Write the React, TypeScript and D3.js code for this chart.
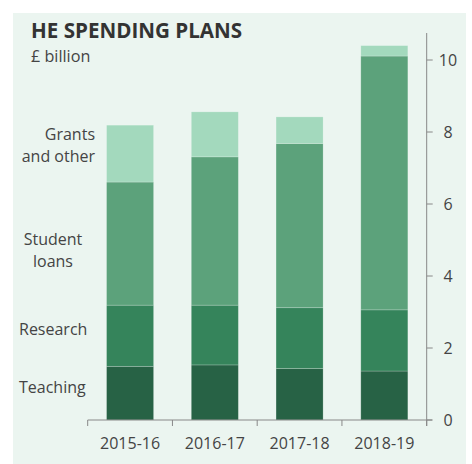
import React from "react";
import * as d3 from "d3";

const categories = ["2015-16", "2016-17", "2017-18", "2018-19"];
const seriesNames = ["Teaching", "Research", "Student loans", "Grants and other"];
const teaching = [1.49, 1.53, 1.43, 1.36];
const research = [1.70, 1.66, 1.69, 1.70];
const studentLoans = [3.42, 4.12, 4.56, 7.05];
const grantsOther = [1.58, 1.25, 0.74, 0.29];
const yTicks = [0, 2, 4, 6, 8, 10];
const colors = ["#276245", "#35845b", "#5ca27b", "#a3d9bd"];

const W = 472;
const H = 464;
const font = "'Open Sans', sans-serif";

export default function App() {
  const rows = categories.map((c, i) => ({
    cat: c,
    Teaching: teaching[i],
    Research: research[i],
    "Student loans": studentLoans[i],
    "Grants and other": grantsOther[i],
  }));
  const stack = d3.stack<any>().keys(seriesNames);
  const series = stack(rows);

  const x = d3.scaleBand().domain(categories).range([87.7, 426.7]).paddingInner(0.445).paddingOuter(0.2225);
  const y = d3.scaleLinear().domain([0, 10]).range([420, 60]);
  const axisX = 426.7;
  const step = x.step();
  const boundaries = categories.map((_, i) => 87.7 + i * step).concat([426.7]);

  return (
    <svg width={W} height={H} style={{ position: "absolute", left: 0, top: 0 }} fontFamily={font}>
      <rect x={0} y={0} width={W} height={H} fill="#ffffff" />
      <rect x={13} y={13} width={453} height={451} fill="#ebf5f0" />
      <text x={31} y={38} fontSize={20.6} fontWeight={700} fill="#333">HE SPENDING PLANS</text>
      <text x={31} y={62} fontSize={16.2} fill="#444">£ billion</text>

      {series.map((s, si) => (
        <g key={si} fill={colors[si]}>
          {s.map((d, i) => (
            <rect
              key={i}
              x={x(categories[i])}
              width={x.bandwidth()}
              y={y(d[1])}
              height={y(d[0]) - y(d[1])}
              stroke="#ffffff"
              strokeOpacity={0.25}
              strokeWidth={0.8}
            />
          ))}
        </g>
      ))}

      {/* right axis */}
      <line x1={axisX} x2={axisX} y1={33} y2={426} stroke="#888" strokeWidth={1} />
      {yTicks.map((t) => (
        <g key={t}>
          <line x1={axisX} x2={axisX + 6} y1={y(t)} y2={y(t)} stroke="#888" strokeWidth={1} />
          <text x={448} y={y(t)} dy="0.35em" textAnchor="middle" fontSize={16} fill="#444">{t}</text>
        </g>
      ))}

      {/* bottom axis */}
      <line x1={87.7} x2={432} y1={420} y2={420} stroke="#888" strokeWidth={1} />
      {boundaries.map((b, i) => (
        <line key={i} x1={b} x2={b} y1={420} y2={426} stroke="#888" strokeWidth={1} />
      ))}
      {categories.map((c) => (
        <text key={c} x={(x(c) as number) + x.bandwidth() / 2} y={449} textAnchor="middle" fontSize={16} fill="#444">{c}</text>
      ))}

      {/* series labels */}
      <text x={95} y={140} textAnchor="end" fontSize={16} fill="#444">Grants</text>
      <text x={95} y={162} textAnchor="end" fontSize={16} fill="#444">and other</text>
      <text x={53} y={245} textAnchor="middle" fontSize={16} fill="#444">Student</text>
      <text x={53} y={267} textAnchor="middle" fontSize={16} fill="#444">loans</text>
      <text x={19} y={335} fontSize={16} fill="#444">Research</text>
      <text x={19} y={393} fontSize={16} fill="#444">Teaching</text>
    </svg>
  );
}
